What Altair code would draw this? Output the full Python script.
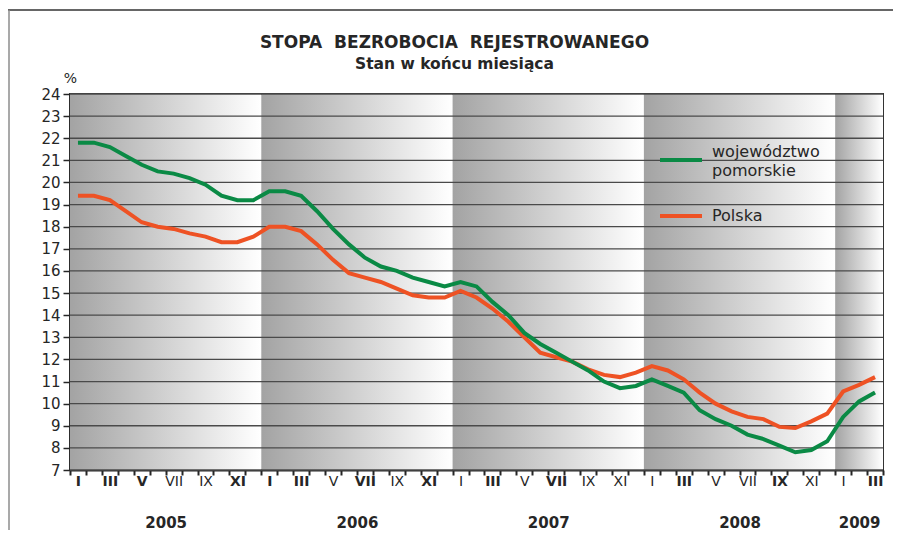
import altair as alt
import pandas as pd

# ---------------- data ----------------
years = ["2005", "2006", "2007", "2008", "2009"]
months_per_year = [12, 12, 12, 12, 3]
roman = ["I", "II", "III", "IV", "V", "VI", "VII", "VIII", "IX", "X", "XI", "XII"]
series_names = ["województwo pomorskie", "Polska"]
title_words = ["STOPA", "BEZROBOCIA", "REJESTROWANEGO"]
subtitle_text = "Stan w końcu miesiąca"

pomorskie = [
    21.8, 21.8, 21.6, 21.2, 20.8, 20.5, 20.4, 20.2, 19.9, 19.4, 19.2, 19.2,
    19.6, 19.6, 19.4, 18.7, 17.9, 17.2, 16.6, 16.2, 16.0, 15.7, 15.5, 15.3,
    15.5, 15.3, 14.6, 14.0, 13.2, 12.7, 12.3, 11.9, 11.5, 11.0, 10.7, 10.8,
    11.1, 10.8, 10.5, 9.7, 9.3, 9.0, 8.6, 8.4, 8.1, 7.8, 7.9, 8.3,
    9.4, 10.1, 10.5,
]
polska = [
    19.4, 19.4, 19.2, 18.7, 18.2, 18.0, 17.9, 17.7, 17.55, 17.3, 17.3, 17.55,
    18.0, 18.0, 17.8, 17.2, 16.5, 15.9, 15.7, 15.5, 15.2, 14.9, 14.8, 14.8,
    15.1, 14.8, 14.3, 13.7, 13.0, 12.3, 12.1, 11.9, 11.55, 11.3, 11.2, 11.4,
    11.7, 11.5, 11.1, 10.5, 10.0, 9.65, 9.4, 9.3, 8.95, 8.9, 9.2, 9.55,
    10.55, 10.85, 11.2,
]
y_ticks = list(range(7, 25))
# month labels that appear bold in the original print (year, roman label)
bold_labels = [("2005", "I"), ("2005", "III"), ("2005", "V"), ("2005", "XI"),
               ("2006", "I"), ("2006", "III"), ("2006", "VII"), ("2006", "XI"),
               ("2007", "III"), ("2007", "VII"),
               ("2008", "III"), ("2008", "IX"),
               ("2009", "III")]

GREEN = "#0a8a45"
ORANGE = "#ee5224"
DARK = "#262626"
FONT = "DejaVu Sans"

# ---------------- derived tables ----------------
starts, ends = [], []
acc = 0
for m in months_per_year:
    starts.append(acc)
    acc += m
    ends.append(acc)
n_months = acc
band_df = pd.DataFrame({"year": years, "start": starts, "end": ends})
year_centers = [(s + e) / 2 for s, e in zip(starts, ends)]

rows = []
for i in range(n_months):
    rows.append({"pos": i + 0.5, "series": series_names[0], "value": pomorskie[i]})
    rows.append({"pos": i + 0.5, "series": series_names[1], "value": polska[i]})
df = pd.DataFrame(rows)

month_label_pos = [i + 0.5 for i in range(n_months) if i % 12 % 2 == 0]
bold_pos = []
for y, lab in bold_labels:
    bold_pos.append(starts[years.index(y)] + roman.index(lab) + 0.5)

grid_df = pd.DataFrame({"v": y_ticks})

# ---------------- scales & axes ----------------
x_scale = alt.Scale(domain=[0, n_months], nice=False, zero=False)
y_scale = alt.Scale(domain=[min(y_ticks), max(y_ticks)], nice=False, zero=False)

roman_js = "[" + ",".join("'%s'" % r for r in roman) + "]"
years_js = "[" + ",".join("'%s'" % y for y in years) + "]"
centers_js = "[" + ",".join(str(c) for c in year_centers) + "]"
bold_js = "[" + ",".join(str(b) for b in bold_pos) + "]"

tick_axis = alt.Axis(orient="bottom", values=list(range(n_months + 1)), labels=False,
                     ticks=True, tickSize=5, tickWidth=2, tickColor=DARK,
                     domain=True, domainColor=DARK, domainWidth=2, grid=False, title=None)
month_axis = alt.Axis(orient="bottom", values=month_label_pos,
                      labelExpr=roman_js + "[floor(datum.value) % 12]",
                      labelFontSize=14, labelColor=DARK, labelPadding=4,
                      labelFontWeight={"condition": {"test": "indexof(" + bold_js + ", datum.value) >= 0",
                                                     "value": "bold"}, "value": "normal"},
                      ticks=False, domain=False, grid=False, title=None, labelFlush=False,
                      labelOverlap=False)
year_axis = alt.Axis(orient="bottom", values=year_centers,
                     labelExpr=years_js + "[indexof(" + centers_js + ", datum.value)]",
                     labelFontSize=15, labelFontWeight="bold", labelColor=DARK, labelPadding=45,
                     ticks=False, domain=False, grid=False, title=None, labelFlush=False,
                     labelOverlap=False)
y_axis = alt.Axis(values=y_ticks, title="%", titleAngle=0, titleX=0, titleY=-9,
                  titleAlign="center", titleBaseline="bottom", titleFontSize=14,
                  titleFontWeight="normal", titleColor=DARK,
                  labelFontSize=15, labelColor=DARK, labelPadding=3,
                  tickSize=7, tickWidth=1.5, tickColor=DARK,
                  domainColor=DARK, domainWidth=2, grid=False)

gradient = alt.Gradient(gradient="linear", x1=0, x2=1, y1=0, y2=0,
                        stops=[alt.GradientStop(offset=0, color="#a3a3a3"),
                               alt.GradientStop(offset=0.95, color="#fbfbfb"),
                               alt.GradientStop(offset=1, color="#ffffff")])

# ---------------- layers ----------------
bands = alt.Chart(band_df).mark_rect(color=gradient).encode(
    x=alt.X("start:Q", scale=x_scale, axis=tick_axis),
    x2="end:Q",
)

grid = alt.Chart(grid_df).mark_rule(color="#4a4a4a", strokeWidth=1.3).encode(
    y=alt.Y("v:Q", scale=y_scale, axis=y_axis)
)

color_scale = alt.Scale(domain=series_names, range=[GREEN, ORANGE])

orange_line = alt.Chart(df).transform_filter(
    alt.datum.series == series_names[1]
).mark_line(strokeWidth=4).encode(
    x=alt.X("pos:Q", scale=x_scale, axis=year_axis),
    y=alt.Y("value:Q", scale=y_scale, axis=y_axis),
    color=alt.Color("series:N", scale=color_scale, legend=None),
)
green_line = alt.Chart(df).transform_filter(
    alt.datum.series == series_names[0]
).mark_line(strokeWidth=4).encode(
    x=alt.X("pos:Q", scale=x_scale, axis=month_axis),
    y=alt.Y("value:Q", scale=y_scale, axis=y_axis),
    color=alt.Color("series:N", scale=color_scale, legend=None),
)

dummy = pd.DataFrame({"k": [0]})

# legend drawn inside the plot, as in the original
leg_font = dict(font=FONT, fontSize=16, color=DARK, align="left", baseline="alphabetic")
green_words = series_names[0].split(" ")
leg_green_sym = alt.Chart(dummy).mark_rule(color=GREEN, strokeWidth=4).encode(
    x=alt.value(590), x2=alt.value(632), y=alt.value(66))
leg_green_t1 = alt.Chart(dummy).mark_text(text=green_words[0], **leg_font).encode(
    x=alt.value(642), y=alt.value(63))
leg_green_t2 = alt.Chart(dummy).mark_text(text=green_words[1], **leg_font).encode(
    x=alt.value(642), y=alt.value(82))
leg_orange_sym = alt.Chart(dummy).mark_rule(color=ORANGE, strokeWidth=4).encode(
    x=alt.value(590), x2=alt.value(632), y=alt.value(122))
leg_orange_t = alt.Chart(dummy).mark_text(text=series_names[1], **leg_font).encode(
    x=alt.value(642), y=alt.value(127))

# outer frame of the figure
frame_top = alt.Chart(dummy).mark_rule(color="#333333", strokeWidth=1.5).encode(
    x=alt.value(-62), x2=alt.value(830), y=alt.value(-84))
frame_left = alt.Chart(dummy).mark_rule(color="#8c8c8c", strokeWidth=1.5).encode(
    x=alt.value(-61), y=alt.value(-84), y2=alt.value(450))

# double spacing between title words as in the original (non-breaking spaces keep it)
title_text = "\u00a0 ".join(title_words)

chart = alt.layer(
    bands, grid, orange_line, green_line,
    leg_green_sym, leg_green_t1, leg_green_t2, leg_orange_sym, leg_orange_t,
    frame_top, frame_left,
).resolve_axis(
    x="independent"
).properties(
    width=813, height=376,
    padding={"left": 62, "top": 86, "right": 10, "bottom": 60},
    autosize=alt.AutoSizeParams(type="none"),
    title=alt.TitleParams(text=title_text,
                          subtitle=subtitle_text,
                          fontSize=17, fontWeight="bold", color=DARK, font=FONT,
                          subtitleFontSize=15.5, subtitleFontWeight="bold",
                          subtitleColor=DARK, subtitleFont=FONT, subtitlePadding=5,
                          anchor="middle", offset=-64, dx=-22),
).configure(
    font=FONT, background="white"
).configure_view(
    stroke="#333333", strokeWidth=2
)

chart.save("out.html", embed_options={"renderer": "svg", "actions": False})
